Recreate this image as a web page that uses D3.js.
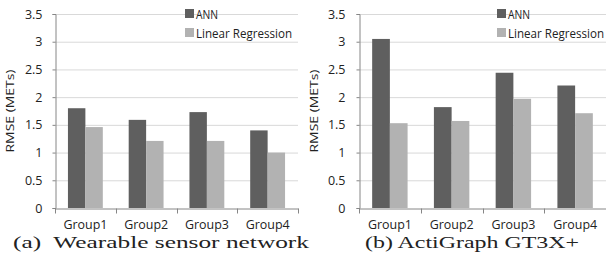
<!DOCTYPE html>
<html>
<head>
<meta charset="utf-8">
<script src="https://cdn.jsdelivr.net/npm/d3@7"></script>
<style>
  body { margin: 0; background: #fff; }
  svg { display: block; }
  .axis text { font-family: "Open Sans", sans-serif; fill: #222; }
</style>
</head>
<body>
<div id="chart"></div>
<script>
// data
const groups = ["Group1", "Group2", "Group3", "Group4"];
const seriesNames = ["ANN", "Linear Regression"];
const wearableANN = [1.80, 1.59, 1.73, 1.40];
const wearableLR = [1.46, 1.21, 1.21, 1.00];
const actiANN = [3.05, 1.82, 2.44, 2.21];
const actiLR = [1.53, 1.57, 1.97, 1.71];
const yTicks = [0, 0.5, 1, 1.5, 2, 2.5, 3, 3.5];
const captions = ["(a)  Wearable sensor network", "(b) ActiGraph GT3X+"];

const colors = ["#5f5f5f", "#b2b2b2"];

const svg = d3.select("#chart").append("svg")
  .attr("width", 606)
  .attr("height", 276);

function plotPanel(opts) {
  //-----------------------------SCALES----------------------------//
  const xScale = d3.scaleBand()
    .domain(groups)
    .range([opts.x0, opts.x1]);

  const yScale = d3.scaleLinear()
    .domain([0, 3.5])
    .range([208, 14]);

  const bandPad = 13 / 61;
  const inner = d3.scaleBand()
    .domain(seriesNames)
    .range([xScale.bandwidth() * bandPad, xScale.bandwidth() * (1 - bandPad)]);

  const g = svg.append("g");

  //----------------------------GRID-------------------------------//
  g.append("g")
    .selectAll("line")
    .data(yTicks.slice(1))
    .enter()
    .append("line")
    .attr("x1", opts.x0)
    .attr("x2", opts.x1)
    .attr("y1", d => yScale(d) + 0.5)
    .attr("y2", d => yScale(d) + 0.5)
    .attr("stroke", "#d9d9d9")
    .attr("stroke-width", 1);

  //----------------------------BARS-------------------------------//
  const rows = groups.map((grp, i) => ({
    group: grp,
    values: [
      { name: seriesNames[0], val: opts.ann[i] },
      { name: seriesNames[1], val: opts.lr[i] }
    ]
  }));

  const bars = g.selectAll(".grp")
    .data(rows)
    .enter()
    .append("g")
    .attr("transform", d => "translate(" + xScale(d.group) + ",0)");

  bars.selectAll("rect")
    .data(d => d.values)
    .enter()
    .append("rect")
    .attr("x", d => inner(d.name))
    .attr("width", inner.bandwidth())
    .attr("y", d => yScale(d.val))
    .attr("height", d => yScale(0) - yScale(d.val))
    .attr("fill", (d, i) => colors[i]);

  //-----------------------------AXES------------------------------//
  const yaxis = d3.axisLeft(yScale)
    .tickValues(yTicks)
    .tickFormat(d3.format("~g"))
    .tickSize(3)
    .tickPadding(opts.ypad);

  const ya = g.append("g")
    .attr("class", "axis")
    .attr("transform", "translate(" + (opts.x0 + 0.5) + ",0)")
    .call(yaxis);
  ya.select(".domain").attr("stroke", "#868686");
  ya.selectAll(".tick line").attr("stroke", "#868686");
  ya.selectAll("text").style("font-size", "12.5px");

  const xaxis = d3.axisBottom(xScale)
    .tickSize(0)
    .tickPadding(12);

  const xa = g.append("g")
    .attr("class", "axis")
    .attr("transform", "translate(0," + (yScale(0) + 0.5) + ")")
    .call(xaxis);
  xa.select(".domain").attr("stroke", "#868686");
  xa.selectAll("text")
    .style("font-size", "12px")
    .attr("textLength", 44)
    .attr("lengthAdjust", "spacingAndGlyphs");

  // group boundary ticks
  const edges = groups.map(d => xScale(d)).concat([opts.x1]);
  xa.selectAll(".edge")
    .data(edges)
    .enter()
    .append("line")
    .attr("x1", d => Math.round(d) + 0.5)
    .attr("x2", d => Math.round(d) + 0.5)
    .attr("y1", 0)
    .attr("y2", 5)
    .attr("stroke", "#868686");

  // y title
  g.append("text")
    .attr("transform", "translate(" + (opts.x0 - 41) + ",111) rotate(-90)")
    .attr("text-anchor", "middle")
    .style("font-family", "Open Sans, sans-serif")
    .style("font-size", "11.5px")
    .attr("fill", "#222")
    .attr("textLength", 83)
    .attr("lengthAdjust", "spacingAndGlyphs")
    .text("RMSE (METs)");

  //----------------------------LEGEND-----------------------------//
  const legend = g.selectAll(".legend")
    .data(seriesNames)
    .enter()
    .append("g")
    .attr("transform", (d, i) => "translate(" + opts.lx + "," + (9 + i * 19) + ")");

  legend.append("rect")
    .attr("width", 9)
    .attr("height", 9)
    .attr("fill", (d, i) => colors[i]);

  legend.append("text")
    .attr("x", 11)
    .attr("y", 9.5)
    .style("font-family", "Open Sans, sans-serif")
    .style("font-size", "12px")
    .attr("fill", "#222")
    .attr("textLength", (d, i) => i ? 96 : 22)
    .attr("lengthAdjust", "spacingAndGlyphs")
    .text(d => d);

  //----------------------------CAPTION----------------------------//
  svg.append("text")
    .attr("x", opts.cx)
    .attr("y", 248)
    .style("font-family", "Liberation Serif, serif")
    .style("font-size", "16.5px")
    .style("white-space", "pre")
    .attr("fill", "#222")
    .attr("textLength", opts.cw)
    .attr("lengthAdjust", "spacingAndGlyphs")
    .text(opts.caption);
}

plotPanel({ x0: 55, x1: 298, ypad: 10, ann: wearableANN, lr: wearableLR,
  lx: 185, cx: 13, cw: 296, caption: captions[0] });
plotPanel({ x0: 359, x1: 606, ypad: 11, ann: actiANN, lr: actiLR,
  lx: 497, cx: 365, cw: 214, caption: captions[1] });
</script>
</body>
</html>
